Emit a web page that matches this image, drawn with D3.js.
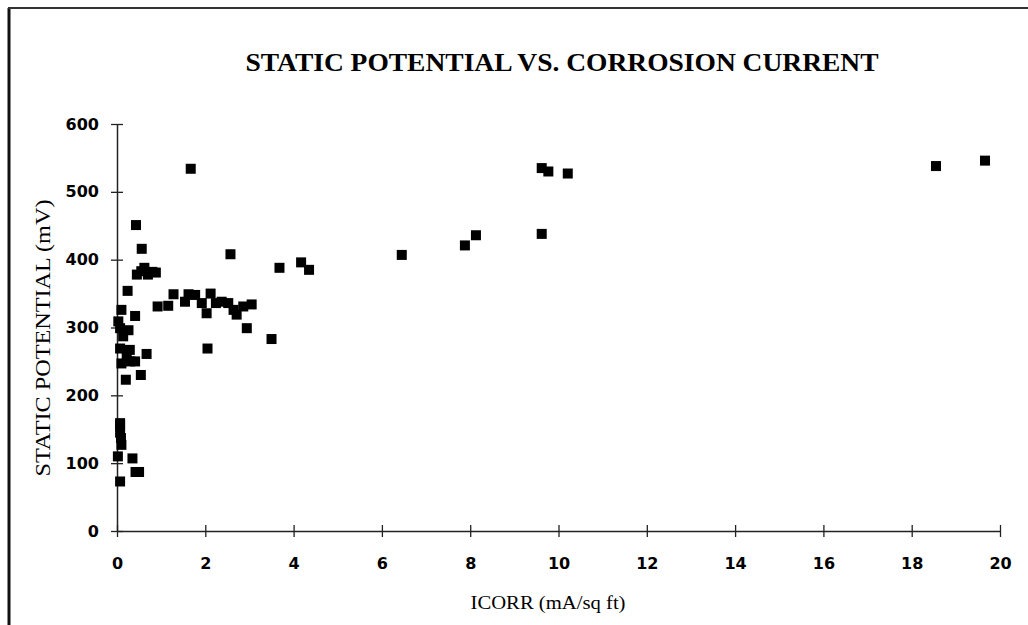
<!DOCTYPE html>
<html>
<head>
<meta charset="utf-8">
<script src="https://cdn.jsdelivr.net/npm/d3@7"></script>
<style>
  html, body { margin: 0; padding: 0; background: #fff; }
  .tick text { font-family: "DejaVu Sans", sans-serif; font-weight: bold; font-size: 16px; }
</style>
</head>
<body>
<div id="chart"></div>
<script>
// readings
var icorr = [1.67, 0.43, 0.56, 2.57, 0.45, 0.55, 0.62, 0.7, 0.8, 0.88,
  0.24, 0.1, 0.41, 0.03, 1.28, 0.92, 1.16, 1.62, 1.77, 1.54,
  1.92, 2.03, 2.12, 2.24, 2.37, 2.52, 2.64, 2.71, 2.86, 3.05,
  2.94, 3.5, 2.05, 3.68, 4.17, 4.35, 6.45, 7.88, 8.13, 9.62,
  9.62, 9.77, 10.21, 18.55, 19.66,
  0.07, 0.26, 0.14, 0.07, 0.29, 0.67, 0.22, 0.41, 0.1, 0.3,
  0.54, 0.2, 0.07, 0.07, 0.07, 0.09, 0.1, 0.02, 0.35, 0.42,
  0.5, 0.07];
var potential = [534, 451, 416, 408, 378, 383, 388, 378, 382, 381,
  354, 326, 317, 309, 349, 331, 332, 349, 348, 338,
  336, 321, 350, 336, 338, 336, 326, 319, 331, 334,
  299, 283, 269, 388, 396, 385, 407, 421, 436, 438,
  535, 530, 527, 538, 546,
  299, 296, 287, 269, 267, 261, 255, 250, 247, 250,
  230, 223, 159, 156, 145, 137, 127, 110, 107, 87,
  87, 73];
var xTicks = [0, 2, 4, 6, 8, 10, 12, 14, 16, 18, 20];
var yTicks = [0, 100, 200, 300, 400, 500, 600];

var width = 1028, height = 625;
var svg = d3.select("#chart").append("svg")
  .attr("width", width).attr("height", height);

// frame
svg.append("line").attr("x1", 9).attr("y1", 8).attr("x2", 9).attr("y2", height)
  .attr("stroke", "#111").attr("stroke-width", 3);
svg.append("line").attr("x1", 8).attr("y1", 8).attr("x2", width).attr("y2", 8)
  .attr("stroke", "#333").attr("stroke-width", 2);

var x = d3.scaleLinear().domain([0, 20]).range([117, 1000]);
var y = d3.scaleLinear().domain([0, 600]).range([531, 124]);

// x axis
var gx = svg.append("g").attr("transform", "translate(0," + y(0) + ")")
  .call(d3.axisBottom(x).tickValues(xTicks).tickSize(6).tickPadding(21).tickSizeOuter(0));
gx.selectAll(".tick line").attr("y1", -6).attr("stroke", "#222").attr("stroke-width", 1.3);
gx.select(".domain").attr("stroke", "#222").attr("stroke-width", 1.5);
gx.selectAll(".tick text").attr("fill", "#000");

// y axis
var gy = svg.append("g").attr("transform", "translate(" + x(0) + ",0)")
  .call(d3.axisLeft(y).tickValues(yTicks).tickSize(6).tickPadding(12).tickSizeOuter(0));
gy.selectAll(".tick line").attr("x1", 6).attr("stroke", "#222").attr("stroke-width", 1.3);
gy.select(".domain").attr("stroke", "#222").attr("stroke-width", 1.5);
gy.selectAll(".tick text").attr("fill", "#000");

// points
var pts = icorr.map(function (v, i) { return { x: v, y: potential[i] }; });
svg.append("g").selectAll("rect").data(pts).enter().append("rect")
  .attr("x", function (d) { return x(d.x) - 5; })
  .attr("y", function (d) { return y(d.y) - 5; })
  .attr("width", 10).attr("height", 10)
  .attr("fill", "#000");

// titles
svg.append("text").attr("x", 562).attr("y", 71)
  .attr("text-anchor", "middle")
  .attr("font-family", "Liberation Serif, serif").attr("font-weight", "bold")
  .attr("font-size", 25)
  .attr("textLength", 633).attr("lengthAdjust", "spacingAndGlyphs")
  .text("STATIC POTENTIAL VS. CORROSION CURRENT");

svg.append("text").attr("transform", "translate(50,338) rotate(-90)")
  .attr("text-anchor", "middle")
  .attr("font-family", "Liberation Serif, serif").attr("font-size", 21)
  .attr("textLength", 277).attr("lengthAdjust", "spacingAndGlyphs")
  .text("STATIC POTENTIAL (mV)");

svg.append("text").attr("x", 548).attr("y", 609)
  .attr("text-anchor", "middle")
  .attr("font-family", "Liberation Serif, serif").attr("font-size", 19)
  .attr("textLength", 155).attr("lengthAdjust", "spacingAndGlyphs")
  .text("ICORR (mA/sq ft)");
</script>
</body>
</html>
